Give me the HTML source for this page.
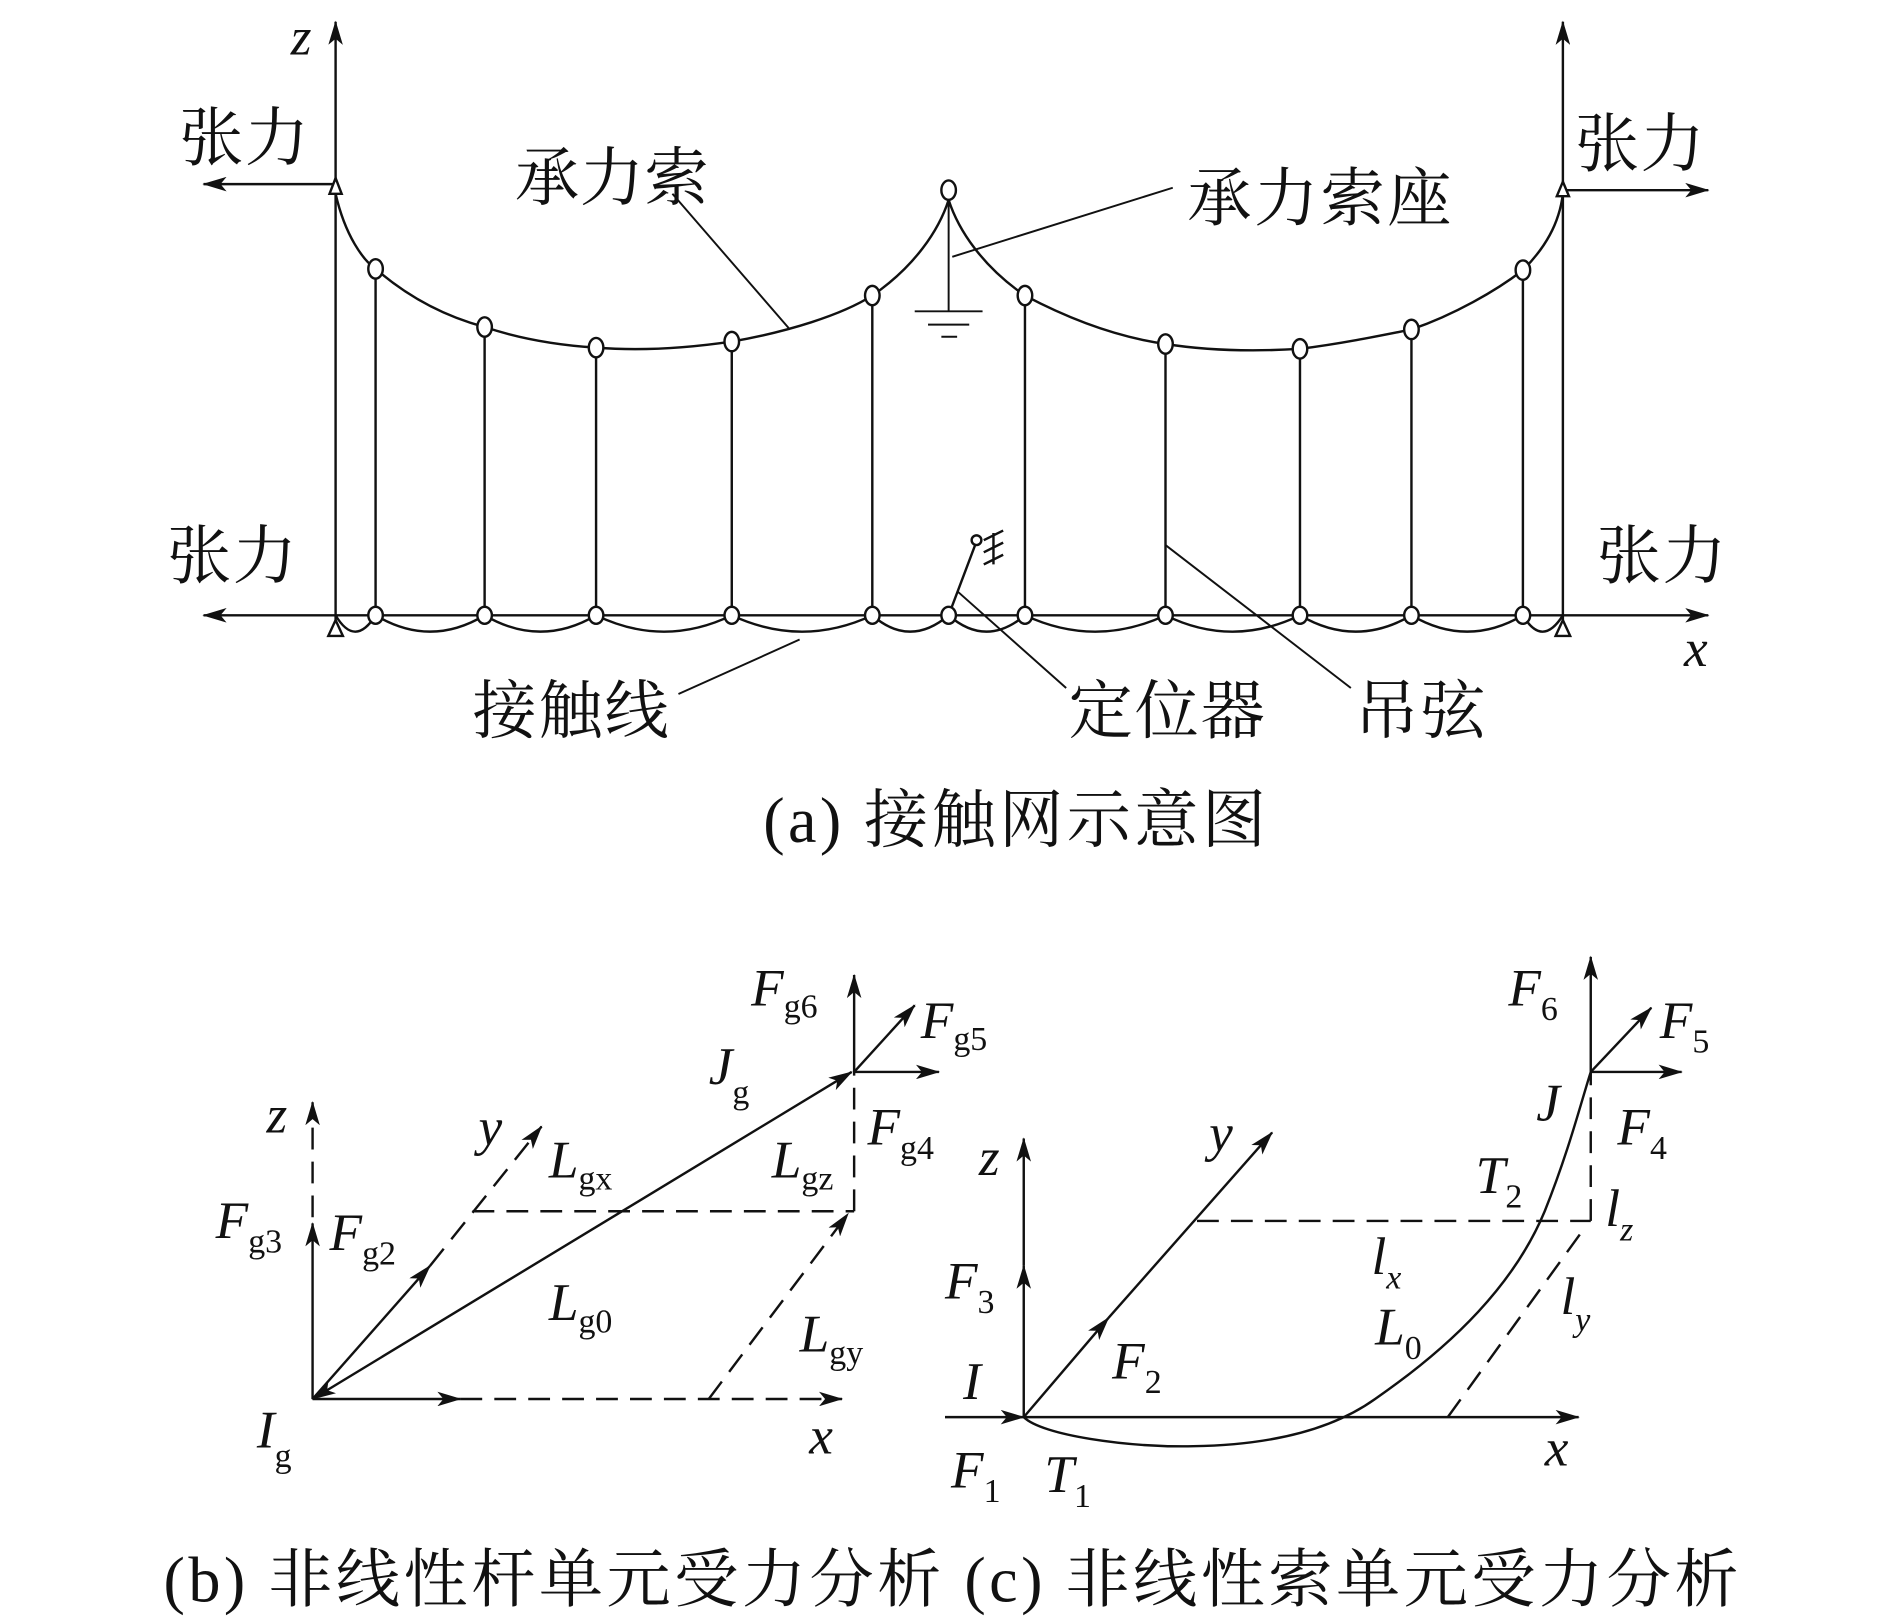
<!DOCTYPE html>
<html><head><meta charset="utf-8"><style>
html,body{margin:0;padding:0;background:#fff;}
svg{display:block;}
.m{font-family:"Liberation Serif",serif;font-style:italic;font-size:44px;fill:#111;}
.s{font-size:28px;font-style:normal;}
.c{font-family:"Liberation Serif","Noto Serif CJK SC",serif;font-size:53px;fill:#111;}
</style></head><body>
<svg width="1890" height="1617" viewBox="0 0 1560 1335" preserveAspectRatio="none" xmlns="http://www.w3.org/2000/svg">
<defs>
<marker id="a" viewBox="0 0 20 12" refX="19" refY="6" markerWidth="20" markerHeight="12" markerUnits="userSpaceOnUse" orient="auto-start-reverse">
<path d="M0,0 L20,6 L0,12 L5,6 Z" fill="#111"/></marker>
</defs>
<g stroke="#111" stroke-width="2" fill="none">
<line x1="277" y1="512" x2="277" y2="18" marker-end="url(#a)"/>
<line x1="1290" y1="512" x2="1290" y2="18" marker-end="url(#a)"/>
<line x1="277" y1="152" x2="168" y2="152" marker-end="url(#a)"/>
<line x1="1290" y1="157" x2="1410" y2="157" marker-end="url(#a)"/>
<line x1="168" y1="508" x2="1410" y2="508" marker-start="url(#a)" marker-end="url(#a)"/>
<path d="M277,160 C285,195 300,215 310,222 C340,248 370,262 400,270 C430,280 460,285 492,287 C530,290 570,287 604,282 C650,274 695,260 720,244 C755,220 775,190 783,165 C791,190 811,220 846,244 C880,262 920,278 962,284 C1000,290 1040,290 1073,288 C1105,284 1135,278 1165,272 C1200,260 1235,240 1257,223 C1275,205 1287,185 1290,160"/>
<path d="M310,222V508 M400,270V508 M492,287V508 M604,282V508 M720,244V508 M846,244V508 M962,284V508 M1073,288V508 M1165,272V508 M1257,223V508"/>
<path d="M277,508 Q293,535 310,508 Q355,535 400,508 Q446,535 492,508 Q548,535 604,508 Q662,535 720,508 Q751,535 783,508 Q814,535 846,508 Q904,535 962,508 Q1017,535 1073,508 Q1119,535 1165,508 Q1211,535 1257,508 Q1273,535 1290,508"/>
<path d="M783,168V257 M755,257H811 M766,268H800 M777,278H790" stroke-width="1.6"/>
<path d="M783,508 L806,447 M820,440V466 M812,446L828,438 M812,456L828,448 M812,466L828,458" stroke-width="2"/>
<path d="M555,160 L652,272 M968,155 L786,212 M560,573 L660,528 M880,568 L790,488 M1115,568 L962,450" stroke-width="1.6"/>
</g>
<g fill="#fff" stroke="#111" stroke-width="2">
<ellipse cx="783" cy="157" rx="6" ry="8"/>
<ellipse cx="310" cy="222" rx="6" ry="8"/><ellipse cx="400" cy="270" rx="6" ry="8"/><ellipse cx="492" cy="287" rx="6" ry="8"/><ellipse cx="604" cy="282" rx="6" ry="8"/><ellipse cx="720" cy="244" rx="6" ry="8"/><ellipse cx="846" cy="244" rx="6" ry="8"/><ellipse cx="962" cy="284" rx="6" ry="8"/><ellipse cx="1073" cy="288" rx="6" ry="8"/><ellipse cx="1165" cy="272" rx="6" ry="8"/><ellipse cx="1257" cy="223" rx="6" ry="8"/>
<ellipse cx="310" cy="508" rx="6" ry="7"/><ellipse cx="400" cy="508" rx="6" ry="7"/><ellipse cx="492" cy="508" rx="6" ry="7"/><ellipse cx="604" cy="508" rx="6" ry="7"/><ellipse cx="720" cy="508" rx="6" ry="7"/><ellipse cx="783" cy="508" rx="6" ry="7"/><ellipse cx="846" cy="508" rx="6" ry="7"/><ellipse cx="962" cy="508" rx="6" ry="7"/><ellipse cx="1073" cy="508" rx="6" ry="7"/><ellipse cx="1165" cy="508" rx="6" ry="7"/><ellipse cx="1257" cy="508" rx="6" ry="7"/>
<circle cx="806" cy="446" r="4"/>
<path d="M277,147 L272,160 L282,160 Z"/><path d="M1290,150 L1285,162 L1295,162 Z"/>
<path d="M277,512 L271,525 L283,525 Z"/><path d="M1290,512 L1284,525 L1296,525 Z"/>
</g>
<g class="c">
<text x="148" y="132" textLength="107">张力</text><text x="1300" y="137" textLength="107">张力</text>
<text x="138" y="477" textLength="107">张力</text><text x="1318" y="477" textLength="107">张力</text>
<text x="425" y="165" textLength="160">承力索</text><text x="980" y="182" textLength="218">承力索座</text>
<text x="390" y="605" textLength="162">接触线</text><text x="882" y="605" textLength="162">定位器</text><text x="1118" y="605" textLength="108">吊弦</text>
<text x="630" y="695" textLength="415">(a) 接触网示意图</text>
<text x="135" y="1322" textLength="1300">(b) 非线性杆单元受力分析 (c) 非线性索单元受力分析</text>
</g>
<g class="m">
<text x="240" y="45">z</text><text x="1390" y="550">x</text>
</g>
<g stroke="#111" stroke-width="2" fill="none">
<line x1="258" y1="1155" x2="380" y2="1155" marker-end="url(#a)"/>
<line x1="380" y1="1155" x2="695" y2="1155" stroke-dasharray="18,10" marker-end="url(#a)"/>
<line x1="258" y1="1155" x2="258" y2="1010" marker-end="url(#a)"/>
<line x1="258" y1="1005" x2="258" y2="910" stroke-dasharray="18,10" marker-end="url(#a)"/>
<line x1="258" y1="1155" x2="355" y2="1045" marker-end="url(#a)"/>
<line x1="355" y1="1045" x2="447" y2="930" stroke-dasharray="18,10" marker-end="url(#a)"/>
<line x1="258" y1="1155" x2="703" y2="885" marker-start="url(#a)" marker-end="url(#a)"/>
<line x1="390" y1="1000" x2="705" y2="1000" stroke-dasharray="18,10"/>
<line x1="705" y1="1000" x2="705" y2="885" stroke-dasharray="18,10"/>
<line x1="585" y1="1155" x2="700" y2="1002" stroke-dasharray="18,10" marker-end="url(#a)"/>
<line x1="705" y1="885" x2="705" y2="805" marker-end="url(#a)"/>
<line x1="705" y1="885" x2="775" y2="885" marker-end="url(#a)"/>
<line x1="705" y1="885" x2="755" y2="830" marker-end="url(#a)"/>
</g>
<g class="m">
<text x="620" y="830">F<tspan class="s" dy="10">g6</tspan></text>
<text x="760" y="857">F<tspan class="s" dy="10">g5</tspan></text>
<text x="585" y="895">J<tspan class="s" dy="16">g</tspan></text>
<text x="716" y="945">F<tspan class="s" dy="12">g4</tspan></text>
<text x="637" y="972">L<tspan class="s" dy="10">gz</tspan></text>
<text x="453" y="972">L<tspan class="s" dy="10">gx</tspan></text>
<text x="395" y="945">y</text><text x="220" y="935">z</text>
<text x="178" y="1022">F<tspan class="s" dy="12">g3</tspan></text>
<text x="272" y="1032">F<tspan class="s" dy="12">g2</tspan></text>
<text x="453" y="1090">L<tspan class="s" dy="10">g0</tspan></text>
<text x="660" y="1116">L<tspan class="s" dy="10">gy</tspan></text>
<text x="212" y="1195">I<tspan class="s" dy="16">g</tspan></text>
<text x="668" y="1200">x</text>
</g>
<g stroke="#111" stroke-width="2" fill="none">
<line x1="780" y1="1170" x2="845" y2="1170" marker-end="url(#a)"/>
<line x1="845" y1="1170" x2="1303" y2="1170" marker-end="url(#a)"/>
<line x1="845" y1="1170" x2="845" y2="1045" marker-end="url(#a)"/>
<line x1="845" y1="1045" x2="845" y2="940" marker-end="url(#a)"/>
<line x1="845" y1="1170" x2="915" y2="1088" marker-end="url(#a)"/>
<line x1="915" y1="1088" x2="1050" y2="935" marker-end="url(#a)"/>
<line x1="988" y1="1008" x2="1313" y2="1008" stroke-dasharray="18,10"/>
<line x1="1313" y1="1008" x2="1313" y2="885" stroke-dasharray="18,10"/>
<line x1="1195" y1="1170" x2="1307" y2="1015" stroke-dasharray="18,10"/>
<line x1="1313" y1="885" x2="1313" y2="790" marker-end="url(#a)"/>
<line x1="1313" y1="885" x2="1388" y2="885" marker-end="url(#a)"/>
<line x1="1313" y1="885" x2="1363" y2="832" marker-end="url(#a)"/>
<path d="M845,1170 C860,1185 930,1195 985,1194 C1050,1193 1100,1180 1135,1155 C1200,1110 1250,1060 1275,1000 C1295,950 1305,910 1313,885"/>
</g>
<g class="m">
<text x="1245" y="830">F<tspan class="s" dy="12">6</tspan></text>
<text x="1370" y="857">F<tspan class="s" dy="12">5</tspan></text>
<text x="1268" y="925">J</text>
<text x="1335" y="945">F<tspan class="s" dy="12">4</tspan></text>
<text x="1218" y="985">T<tspan class="s" dy="12">2</tspan></text>
<text x="1325" y="1012">l<tspan class="s" dy="12" style="font-style:italic">z</tspan></text>
<text x="1132" y="1052">l<tspan class="s" dy="12" style="font-style:italic">x</tspan></text>
<text x="1135" y="1110">L<tspan class="s" dy="12">0</tspan></text>
<text x="1288" y="1085">l<tspan class="s" dy="14" style="font-style:italic">y</tspan></text>
<text x="808" y="970">z</text><text x="998" y="950">y</text>
<text x="780" y="1072">F<tspan class="s" dy="12">3</tspan></text>
<text x="918" y="1138">F<tspan class="s" dy="12">2</tspan></text>
<text x="795" y="1155">I</text>
<text x="785" y="1228">F<tspan class="s" dy="12">1</tspan></text>
<text x="862" y="1232">T<tspan class="s" dy="12">1</tspan></text>
<text x="1275" y="1210">x</text>
</g>
</svg>
</body></html>
